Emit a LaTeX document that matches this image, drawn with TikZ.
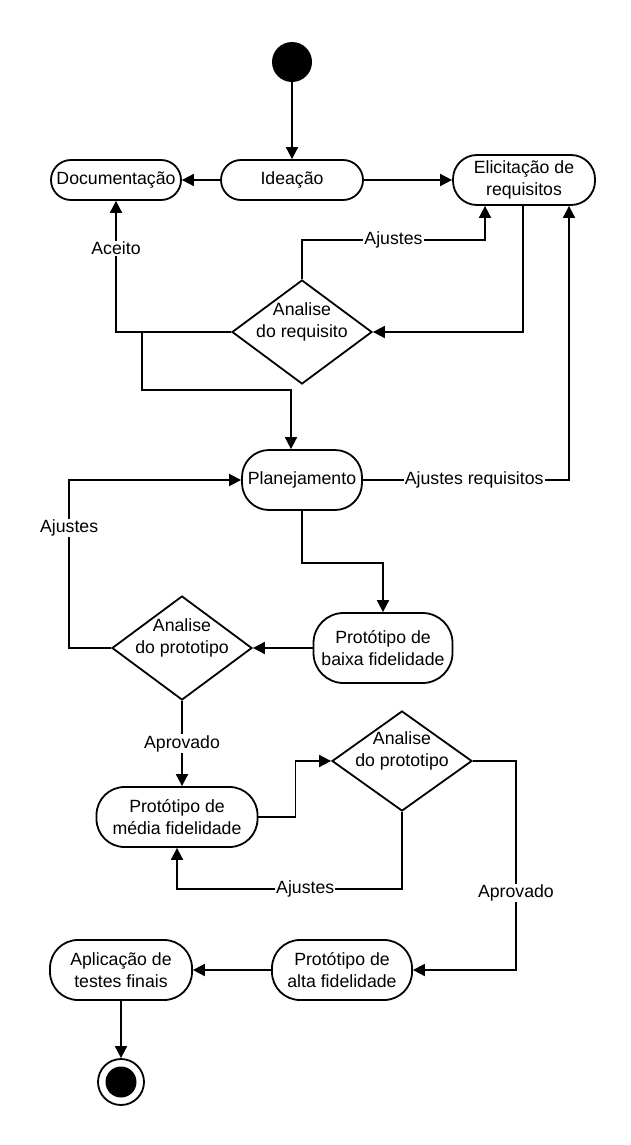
\documentclass[tikz,border=0pt]{standalone}
\usepackage{fontspec}
\setmainfont{Liberation Sans}
\usetikzlibrary{shapes.geometric,arrows.meta}
\begin{document}
\begin{tikzpicture}[x=1pt,y=-1pt,
  every node/.style={font=\fontsize{17.7}{21.5}\selectfont},
  act/.style={draw,line width=1.8pt,rounded corners=20pt,align=center,inner sep=0pt},
  dec/.style={draw,line width=1.8pt,diamond,inner sep=0pt,minimum width=140pt,minimum height=104pt},
  arr/.style={line width=1.8pt,-{Triangle[length=12pt,width=12pt]}},
  lbl/.style={fill=white,inner sep=1pt}]
\fill[white] (0,0) rectangle (631,1145);
\useasboundingbox (0,0) rectangle (631,1145);
% nodes
\node[circle,fill=black,minimum size=40pt,inner sep=0pt] (start) at (292,62) {};
\node[act,minimum width=142pt,minimum height=40pt] (idea) at (292,180) {Ideação};
\node[act,minimum width=130pt,minimum height=40pt] (doc) at (116,180) {Documentação};
\node[act,minimum width=142pt,minimum height=50pt,rounded corners=24pt] (elic) at (524,180) {Elicitação de\\requisitos};
\node[dec,label={[align=center,yshift=10pt]center:Analise\\do requisito}] (d1) at (302,332) {};
\node[act,minimum width=120pt,minimum height=60pt,rounded corners=27pt] (plan) at (302,480) {Planejamento};
\node[act,minimum width=139pt,minimum height=70pt,rounded corners=30pt] (baixa) at (383,648) {Protótipo de\\baixa fidelidade};
\node[dec,label={[align=center,yshift=10pt]center:Analise\\do prototipo}] (d2) at (182,648) {};
\node[act,minimum width=161pt,minimum height=60pt,rounded corners=28pt] (media) at (177,817) {Protótipo de\\média fidelidade};
\node[dec,minimum height=100pt,label={[align=center,yshift=10pt]center:Analise\\do prototipo}] (d3) at (402,761) {};
\node[act,minimum width=140pt,minimum height=60pt,rounded corners=28pt] (alta) at (342,970) {Protótipo de\\alta fidelidade};
\node[act,minimum width=142pt,minimum height=60pt,rounded corners=28pt] (aplic) at (121,970) {Aplicação de\\testes finais};
\node[circle,draw,line width=1.8pt,fill=white,minimum size=46pt,inner sep=0pt] (endo) at (121,1082) {};
\node[circle,fill=black,minimum size=31pt,inner sep=0pt] (endi) at (121,1082) {};
\coordinate (br) at ([xshift=-89pt]d1.west);
% connectors
\draw[arr] (start) -- (idea);
\draw[arr] (idea) -- (doc);
\draw[arr] (idea) -- (elic);
\draw[arr] (d1.north) -- ++(0,-39) -| node[lbl,pos=0.25]{Ajustes} ([xshift=-39pt]elic.south);
\draw[arr] ([xshift=-1pt]elic.south) |- (d1.east);
\draw[arr] (d1.west) -| node[lbl,pos=0.82]{Aceito} (doc.south);
\draw[arr] (br) -- ++(0,58) -| ([xshift=-11pt]plan.north);
\draw[arr] (plan.east) -| node[lbl,pos=0.27]{Ajustes requisitos} ([xshift=45pt]elic.south);
\draw[arr] (plan.south) -- ++(0,52) -| (baixa.north);
\draw[arr] (baixa.west) -- (d2.east);
\draw[arr] (d2.west) -- ++(-42,0) |- node[lbl,pos=0.357]{Ajustes} (plan.west);
\draw[arr] (d2.south) -- node[lbl]{Aprovado} (d2.south |- media.north);
\draw[arr] (media.east) -- ++(37,0) |- (d3.west);
\draw[arr] (d3.south) -- ++(0,77) -| node[lbl,pos=0.215]{Ajustes} (media.south);
\draw[arr] (d3.east) -- ++(43,0) |- node[lbl,pos=0.316]{Aprovado} (alta.east);
\draw[arr] (alta.west) -- (aplic.east);
\draw[arr] (aplic.south) -- (endo.north);
\end{tikzpicture}
\end{document}
